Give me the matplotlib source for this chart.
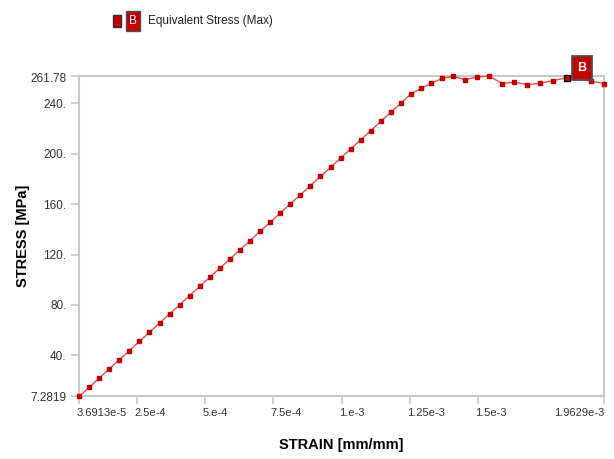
import matplotlib
matplotlib.use("Agg")
import matplotlib.pyplot as plt
from matplotlib.transforms import ScaledTranslation

plt.rcParams['font.family'] = ['Liberation Sans', 'DejaVu Sans']

# strain [mm/mm] and equivalent stress (max) [MPa]
strain = [3.6913e-5, 7.3826e-5, 1.10739e-4, 1.47652e-4, 1.84565e-4, 2.21478e-4,
          2.58391e-4, 2.95304e-4, 3.32217e-4, 3.6913e-4, 4.06043e-4, 4.42956e-4,
          4.79869e-4, 5.16782e-4, 5.53695e-4, 5.90608e-4, 6.27521e-4, 6.64434e-4,
          7.01347e-4, 7.3826e-4, 7.75173e-4, 8.12086e-4, 8.48999e-4, 8.85912e-4,
          9.22825e-4, 9.59738e-4, 9.96651e-4, 1.033564e-3, 1.070477e-3, 1.10739e-3,
          1.144303e-3, 1.181216e-3, 1.218129e-3, 1.255042e-3, 1.291955e-3, 1.328868e-3,
          1.3697e-3, 1.4100e-3, 1.4530e-3, 1.4959e-3, 1.5421e-3, 1.5898e-3,
          1.6338e-3, 1.6804e-3, 1.7281e-3, 1.7740e-3, 1.8261e-3, 1.9141e-3, 1.9629e-3]
stress = [7.2819, 14.56, 21.85, 29.13, 36.41, 43.69,
          50.97, 58.26, 65.54, 72.82, 80.10, 87.38,
          94.66, 101.95, 109.23, 116.51, 123.79, 131.07,
          138.36, 145.64, 152.92, 160.20, 167.48, 174.77,
          182.05, 189.33, 196.61, 203.89, 211.18, 218.46,
          225.74, 233.02, 240.30, 247.58, 252.0, 256.0,
          259.9, 261.5, 258.8, 261.0, 261.78, 255.7,
          257.0, 254.9, 256.0, 258.0, 260.4, 257.8, 255.8]

xticks = [3.6913e-5, 2.5e-4, 5e-4, 7.5e-4, 1e-3, 1.25e-3, 1.5e-3, 1.9629e-3]
xticklabels = ['3.6913e-5', '2.5e-4', '5.e-4', '7.5e-4', '1.e-3', '1.25e-3', '1.5e-3', '1.9629e-3']
yticks = [7.2819, 40, 80, 120, 160, 200, 240, 261.78]
yticklabels = ['7.2819', '40.', '80.', '120.', '160.', '200.', '240.', '261.78']

probe_index = 46  # black marker with the "B" tag

red = '#c40000'
grey = '#c8c8c8'

fig = plt.figure(figsize=(6.14, 4.59), dpi=100)
ax = fig.add_axes([0.1287, 0.1362, 0.855, 0.6982])

ax.plot(strain, stress, color='#e05050', lw=1.0, marker='s', ms=3.2,
        mfc=red, mec=red, clip_on=False, zorder=3)
ax.plot(strain[probe_index], stress[probe_index], marker='s', ms=5,
        mfc=red, mec='black', mew=1.0, clip_on=False, zorder=4)
ax.annotate('B', xy=(strain[probe_index], stress[probe_index]),
            xytext=(11, 7), textcoords='offset points', ha='center', va='center',
            color='white', fontsize=9, fontweight='bold', annotation_clip=False,
            bbox=dict(boxstyle='square,pad=0.45', fc=red, ec='#505050', lw=1.3),
            zorder=5)

ax.set_xlim(xticks[0], xticks[-1])
ax.set_ylim(yticks[0], yticks[-1])
ax.set_xticks(xticks)
ax.set_xticklabels(xticklabels)
ax.set_yticks(yticks)
ax.set_yticklabels(yticklabels)

for s in ax.spines.values():
    s.set_color(grey)
    s.set_linewidth(1.5)
ax.tick_params(colors=grey, labelcolor='#333333', length=6, width=1.2)
ax.tick_params(axis='x', labelsize=8, pad=2)
ax.tick_params(axis='y', labelsize=8.5, pad=3)

# x tick labels start at their tick, the last one ends at the axis edge
shift = ScaledTranslation(-2 / 72, 0, fig.dpi_scale_trans)
xl = ax.get_xticklabels()
for lab in xl[:-1]:
    lab.set_ha('left')
    lab.set_transform(lab.get_transform() + shift)
xl[-1].set_ha('right')
yl = ax.get_yticklabels()
yl[-1].set_va('top')
yl[-1].set_transform(yl[-1].get_transform() + ScaledTranslation(0, 2 / 72, fig.dpi_scale_trans))

ax.set_xlabel('STRAIN [mm/mm]', fontsize=10.5, fontweight='bold', labelpad=15)
ax.set_ylabel('STRESS [MPa]', fontsize=10.5, fontweight='bold', labelpad=0)

# legend at the top
fig.text(117 / 614, 1 - 21 / 459, ' ', fontsize=4, ha='center', va='center',
         bbox=dict(boxstyle='square,pad=0.6', fc=red, ec='#303030', lw=1.0))
fig.text(133 / 614, 1 - 21 / 459, 'B', fontsize=8.5, color='white', ha='center', va='center',
         bbox=dict(boxstyle='square,pad=0.3', fc=red, ec='#505050', lw=1.0))
fig.text(148 / 614, 1 - 21 / 459, 'Equivalent Stress (Max)', fontsize=8.5,
         color='#222222', ha='left', va='center')

fig.savefig('out.png', dpi=100)
